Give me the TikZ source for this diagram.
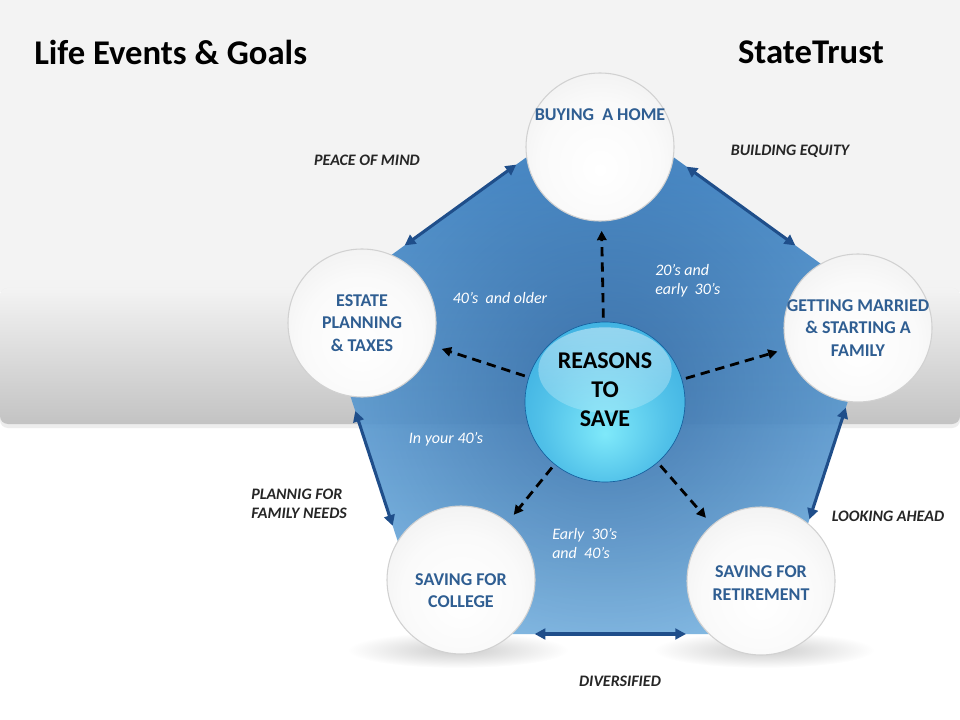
\documentclass[tikz,border=0pt]{standalone}
\usepackage{fontspec}
\setmainfont{Carlito}
\usepackage{xcolor}
\usepackage{tikz}
\usetikzlibrary{arrows.meta, calc, fadings}

\definecolor{slate}{HTML}{F3F3F3}
\definecolor{band}{HTML}{C3C3C3}
\definecolor{circtext}{HTML}{2F5E92}
\definecolor{rimblue}{HTML}{1F4E8A}
\definecolor{labelgray}{HTML}{262626}
\definecolor{pentop}{HTML}{3B87CC}
\definecolor{penmid}{HTML}{2C6FB2}
\definecolor{penbot}{HTML}{88C5F0}
\definecolor{glowblue}{HTML}{0F3C78}
\definecolor{ballcore}{HTML}{7FE9FA}
\definecolor{ballmid}{HTML}{32A6DD}
\definecolor{balledge}{HTML}{1C7EC1}
\definecolor{ballrim}{HTML}{15609E}

\pgfdeclareradialshading{whiteball}{\pgfpoint{0bp}{-8bp}}{color(0bp)=(white); color(20bp)=(black!2); color(36bp)=(black!7); color(44bp)=(black!13); color(49bp)=(black!21); color(50bp)=(black!28)}
\pgfdeclareradialshading{blueball}{\pgfpoint{0bp}{-10bp}}{color(0bp)=(ballcore); color(20bp)=(ballmid!60!ballcore); color(38bp)=(ballmid); color(47bp)=(balledge); color(50bp)=(ballrim)}

\tikzfading[name=softedge, inner color=transparent!0, outer color=transparent!100]
\tikzfading[name=fadedown, top color=transparent!0, bottom color=transparent!100]

\begin{document}
\begin{tikzpicture}[x=0.75pt, y=-0.75pt,
    bubble/.style={circle, minimum size=111pt, inner sep=0pt, shade, shading=whiteball, draw=black!18, line width=0.8pt},
    bubtext/.style={text=circtext, font=\fontsize{13.5}{17}\selectfont\bfseries, align=center, inner sep=0pt},
    core/.style={circle, minimum size=120pt, inner sep=0pt, shade, shading=blueball, draw=ballrim, line width=0.5pt,
        path picture={\fill[white, path fading=fadedown, fill opacity=0.45] ([yshift=24pt]path picture bounding box.center) ellipse [x radius=50pt, y radius=32pt];}},
    coretext/.style={font=\fontsize{18}{21.75}\selectfont\bfseries, align=center, inner sep=0pt},
    tag/.style={font=\fontsize{12}{14.25}\selectfont\bfseries\itshape, text=labelgray, inner sep=0pt},
    age/.style={font=\fontsize{12}{14.25}\selectfont\itshape, text=white, inner sep=0pt, align=left},
    rimarrow/.style={draw=rimblue, line width=2.3pt, {Triangle[length=8pt,width=8pt]}-{Triangle[length=8pt,width=8pt]}},
    dasharrow/.style={draw=black, line width=2.1pt, dash pattern=on 7pt off 4.5pt, -{Triangle[length=7pt,width=7pt]}, shorten <=3pt, shorten >=7pt}]

    \useasboundingbox (0,0) rectangle (960,720);
    % backdrop
    \fill[white] (0,0) rectangle (960,720);
    \fill[slate] (0,0) rectangle (960,292);
    \fill[black!7, rounded corners=6] (0,288) rectangle (960,428);
    \shade[top color=slate, bottom color=band, rounded corners=6] (0,288) rectangle (960,424);

    % pentagon
    \coordinate (pT) at (600,104);
    \coordinate (pR) at (879,306);
    \coordinate (pBR) at (772,634);
    \coordinate (pBL) at (428,634);
    \coordinate (pL) at (321,306);
    \shade[top color=pentop, middle color=penmid, bottom color=penbot, fill opacity=0.9]
        (pT) -- (pR) -- (pBR) -- (pBL) -- (pL) -- cycle;
    \begin{scope}
        \clip (pT) -- (pR) -- (pBR) -- (pBL) -- (pL) -- cycle;
        \fill[glowblue, path fading=softedge, fill opacity=0.5] (605,385) circle [radius=360];
    \end{scope}

    % shadows
    \fill[black, path fading=softedge, fill opacity=0.2] (458,650) ellipse [x radius=110, y radius=18];
    \fill[black, path fading=softedge, fill opacity=0.2] (764,650) ellipse [x radius=110, y radius=18];

    \draw[rimarrow] ($(pL)!0.30!(pT)$) -- ($(pL)!0.70!(pT)$);
    \draw[rimarrow] ($(pT)!0.31!(pR)$) -- ($(pT)!0.70!(pR)$);
    \draw[rimarrow] ($(pL)!0.32!(pBL)$) -- ($(pL)!0.67!(pBL)$);
    \draw[rimarrow] ($(pR)!0.31!(pBR)$) -- ($(pR)!0.65!(pBR)$);
    \draw[rimarrow] ($(pBL)!0.31!(pBR)$) -- ($(pBL)!0.75!(pBR)$);

    \node[bubble, label={[bubtext, yshift=24.5pt]center:BUYING\ \ A HOME}] (home) at (600,147) {};
    \node[bubble, label={[bubtext]center:ESTATE\\PLANNING\\\& TAXES}] (estate) at (362,323) {};
    \node[bubble, label={[bubtext]center:GETTING MARRIED\\\& STARTING A\\FAMILY}] (family) at (858,328) {};
    \node[bubble, label={[bubtext, yshift=-8pt]center:SAVING FOR\\COLLEGE}] (college) at (461,580) {};
    \node[bubble, label={[bubtext, yshift=-1.5pt]center:SAVING FOR\\RETIREMENT}] (retire) at (761,581) {};
    \node[core, label={[coretext, yshift=9pt]center:REASONS\\TO\\SAVE}] (save) at (605,402) {};

    \path[dasharrow]
        (save) edge (home)
        (save) edge (estate)
        (save) edge (family)
        (save) edge (college)
        (save) edge (retire);

    \node[anchor=west, font=\fontsize{26}{30}\selectfont\bfseries, inner sep=0pt] (title) at (34,52) {Life Events \& Goals};
    \node[anchor=east, font=\fontsize{26}{30}\selectfont\bfseries, inner sep=0pt] (brand) at (884,52) {StateTrust};

    \node[tag] (peace) at (367,160) {PEACE OF MIND};
    \node[tag] (equity) at (790,151) {BUILDING EQUITY};
    \node[tag, anchor=west, align=left] (needs) at (251,504) {PLANNIG FOR\\FAMILY NEEDS};
    \node[tag] (ahead) at (888,516) {LOOKING AHEAD};
    \node[tag] (diverse) at (620,681) {DIVERSIFIED};

    \node[age] (older) at (500,298) {40's\ \ and older};
    \node[age, anchor=west] (twenties) at (655,281) {20's and\\early\ \ 30's};
    \node[age] (forties) at (446,439) {In your 40's};
    \node[age, anchor=west] (thirties) at (552,544) {Early\ \ 30's\\and\ \ 40's};
\end{tikzpicture}
\end{document}
